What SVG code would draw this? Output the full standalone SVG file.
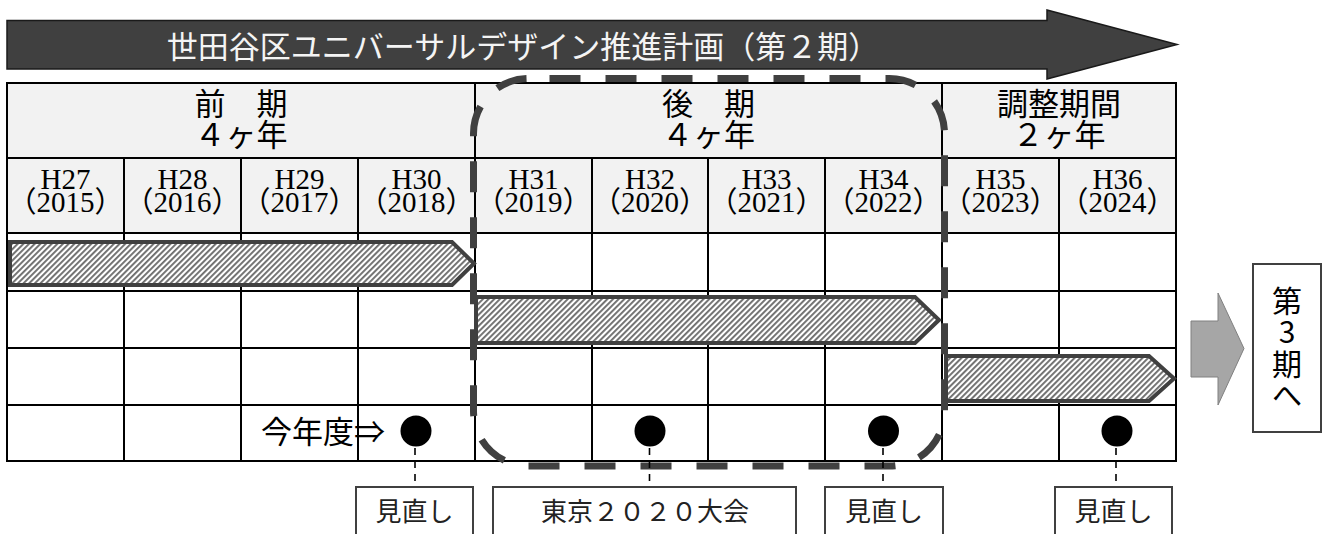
<svg xmlns="http://www.w3.org/2000/svg" width="1325" height="534" viewBox="0 0 1325 534">
<defs>
<pattern id="hatch" patternUnits="userSpaceOnUse" width="4" height="4" patternTransform="rotate(45)">
<rect width="4" height="4" fill="#ffffff"/>
<rect width="1.9" height="4" fill="#6e6e6e"/>
</pattern>
<style>
.jp{font-family:"Noto Sans CJK JP",sans-serif;fill:#000}
.yr{font-family:"Liberation Serif","Noto Sans CJK JP",serif;font-size:29px;text-anchor:middle;fill:#000}
.hd{font-size:31px;text-anchor:middle}
.grid{stroke:#000;stroke-width:2;fill:none}
.bar{fill:url(#hatch);stroke:#404040;stroke-width:4;stroke-linejoin:miter}
.lbl{fill:#fff;stroke:#404040;stroke-width:2}
.lbltxt{font-size:26px;text-anchor:middle;fill:#222}
.lead{stroke:#000;stroke-width:1.6;stroke-dasharray:7 6;fill:none}
.dot{fill:#000}
</style>
</defs>
<rect width="1325" height="534" fill="#fff"/>

<g id="title">
<polygon points="7,20.5 1047,20.5 1047,10 1177,44.5 1047,79 1047,69 7,69" fill="#404040" stroke="#1a1a1a" stroke-width="1.5"/>
<text class="jp" x="523" y="58" font-size="31" text-anchor="middle" style="fill:#f4f4f4">世田谷区ユニバーサルデザイン推進計画（第２期）</text>
</g>

<g id="table">
<rect x="7" y="83" width="1169" height="150" fill="#f2f2f2"/>
<rect x="7" y="83" width="1169" height="378" class="grid"/>
<path class="grid" d="M7 158H1176M7 233H1176M7 291H1176M7 348H1176M7 405H1176M475 83V461M942 83V461M124 158V461M241 158V461M358 158V461M592 158V461M708 158V461M825 158V461M1059 158V461"/>
</g>

<g id="period-first">
<text class="jp hd"><tspan x="241" y="115">前　期</tspan><tspan x="241" y="146">４ヶ年</tspan></text>
</g>
<g id="period-second">
<text class="jp hd"><tspan x="708.5" y="115">後　期</tspan><tspan x="708.5" y="146">４ヶ年</tspan></text>
</g>
<g id="period-adjust">
<text class="jp hd"><tspan x="1059" y="115">調整期間</tspan><tspan x="1059" y="146">２ヶ年</tspan></text>
</g>

<g id="years">
<g id="y2015"><text class="yr"><tspan x="65.5" y="189">H27</tspan><tspan x="65.5" y="212">（2015）</tspan></text></g>
<g id="y2016"><text class="yr"><tspan x="182.5" y="189">H28</tspan><tspan x="182.5" y="212">（2016）</tspan></text></g>
<g id="y2017"><text class="yr"><tspan x="299.5" y="189">H29</tspan><tspan x="299.5" y="212">（2017）</tspan></text></g>
<g id="y2018"><text class="yr"><tspan x="416.5" y="189">H30</tspan><tspan x="416.5" y="212">（2018）</tspan></text></g>
<g id="y2019"><text class="yr"><tspan x="533.5" y="189">H31</tspan><tspan x="533.5" y="212">（2019）</tspan></text></g>
<g id="y2020"><text class="yr"><tspan x="650" y="189">H32</tspan><tspan x="650" y="212">（2020）</tspan></text></g>
<g id="y2021"><text class="yr"><tspan x="766.5" y="189">H33</tspan><tspan x="766.5" y="212">（2021）</tspan></text></g>
<g id="y2022"><text class="yr"><tspan x="883.5" y="189">H34</tspan><tspan x="883.5" y="212">（2022）</tspan></text></g>
<g id="y2023"><text class="yr"><tspan x="1000.5" y="189">H35</tspan><tspan x="1000.5" y="212">（2023）</tspan></text></g>
<g id="y2024"><text class="yr"><tspan x="1117.5" y="189">H36</tspan><tspan x="1117.5" y="212">（2024）</tspan></text></g>
</g>

<g id="bar-first"><polygon class="bar" points="10,242 452,242 474,263.5 452,285 10,285"/></g>
<g id="bar-second"><polygon class="bar" points="476,297 915,297 939,320 915,343 476,343"/></g>
<g id="bar-adjust"><polygon class="bar" points="946,356 1149,356 1174,378.5 1149,401 946,401"/></g>

<g id="frame-second">
<rect x="473.5" y="78.5" width="471" height="387.5" rx="55" ry="55" fill="none" stroke="#404040" stroke-width="7" stroke-dasharray="31 25" stroke-dashoffset="35"/>
</g>

<g id="current-year">
<text class="jp" x="261" y="443" font-size="31">今年度⇒</text>
</g>

<g id="connectors">
<line class="lead" x1="415" y1="448" x2="415" y2="487"/>
<line class="lead" x1="649.5" y1="448" x2="649.5" y2="487"/>
<line class="lead" x1="883" y1="448" x2="883" y2="487"/>
<line class="lead" x1="1116" y1="448" x2="1116" y2="487"/>
</g>

<g id="milestone-2018"><circle class="dot" cx="416" cy="431" r="15.5"/></g>
<g id="milestone-2020"><circle class="dot" cx="650" cy="431" r="15.5"/></g>
<g id="milestone-2022"><circle class="dot" cx="883.5" cy="431" r="15.5"/></g>
<g id="milestone-2024"><circle class="dot" cx="1117" cy="431" r="15.5"/></g>

<g id="label-review-1"><rect class="lbl" x="356" y="487" width="117" height="60"/><text class="jp lbltxt" x="414.5" y="521">見直し</text></g>
<g id="label-tokyo"><rect class="lbl" x="493" y="487" width="303" height="60"/><text class="jp lbltxt" x="645" y="521">東京２０２０大会</text></g>
<g id="label-review-2"><rect class="lbl" x="825" y="487" width="118" height="60"/><text class="jp lbltxt" x="884" y="521">見直し</text></g>
<g id="label-review-3"><rect class="lbl" x="1055" y="487" width="117" height="60"/><text class="jp lbltxt" x="1113.5" y="521">見直し</text></g>

<g id="next-arrow">
<polygon points="1191,321 1218,321 1218,293 1244,348.5 1218,405 1218,377 1191,377" fill="#a6a6a6" stroke="#808080" stroke-width="1"/>
</g>
<g id="next-phase">
<rect x="1253" y="264" width="68" height="168" fill="#fff" stroke="#404040" stroke-width="2"/>
<text class="jp" font-size="30" text-anchor="middle"><tspan x="1287" y="312">第</tspan><tspan x="1287" y="343">3</tspan><tspan x="1287" y="375">期</tspan><tspan x="1287" y="406">へ</tspan></text>
</g>
</svg>
